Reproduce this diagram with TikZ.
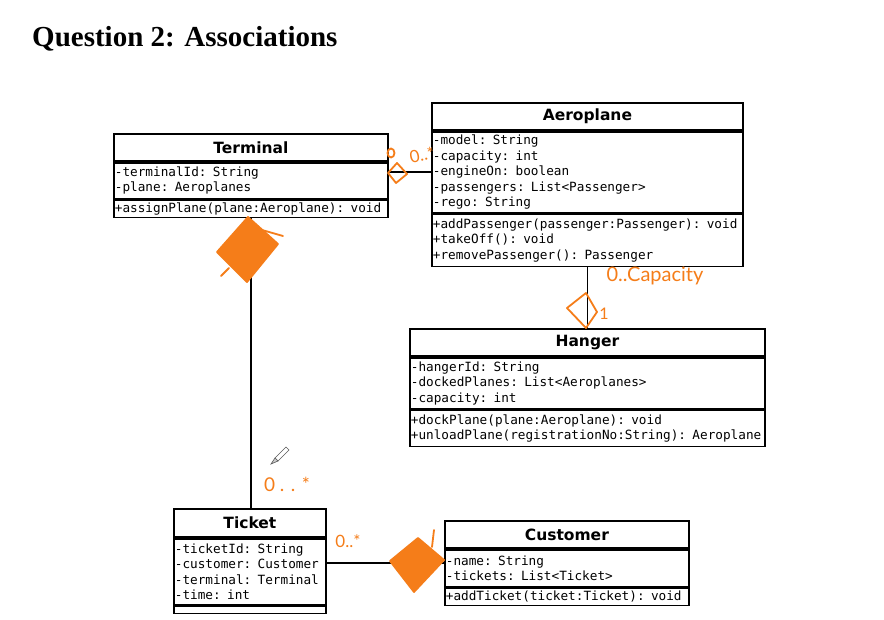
\documentclass[tikz,border=0pt]{standalone}
\usepackage{fontspec}
\setmainfont{Liberation Serif}
\newfontfamily\umlmono{DejaVu Sans Mono}
\newfontfamily\umlsans{DejaVu Sans}
\newfontfamily\handfont{Lato}
\newcommand\umlnohyph{\hyphenpenalty=10000\relax\exhyphenpenalty=10000\relax}
\definecolor{hand}{RGB}{245,125,25}
\begin{document}
\begin{tikzpicture}[x=1pt,y=-1pt,
  umlbox/.style={draw, line width=1.8pt, anchor=north west, inner xsep=1pt, inner ysep=0pt},
  clstitle/.style={umlbox, font=\umlsans\bfseries\fontsize{15.5}{18}\selectfont, align=center},
  clsbody/.style={umlbox, font=\umlmono\fontsize{12.7}{15.5}\selectfont\umlnohyph, align=left},
  assoc/.style={draw, line width=1.8pt},
  handline/.style={draw=hand, line width=1.8pt, line join=round, line cap=round},
  handfill/.style={handline, fill=hand},
  handtext/.style={text=hand, font=\handfont\fontsize{17}{19}\selectfont, inner sep=0pt}]
\useasboundingbox (0,0) rectangle (884,620);
\fill[white] (0,0) rectangle (884,620);

% title
\node[anchor=base west, inner sep=0pt, font=\bfseries\fontsize{29}{32}\selectfont] (title) at (32,46.5) {Question 2: Associations};

% Terminal
\node[clstitle, minimum width=274pt, minimum height=27pt] (term) at (113,133) {Terminal};
\node[clsbody, text width=272pt, minimum height=36pt] (termA) at (term.south west) {-terminalId: String\\-plane: Aeroplanes};
\node[clsbody, text width=272pt, minimum height=17pt] (termM) at (termA.south west) {+assignPlane(plane:Aeroplane): void};

% Aeroplane
\node[clstitle, minimum width=311pt, minimum height=27pt] (plane) at (431,102) {Aeroplane};
\node[clsbody, text width=309pt, minimum height=81pt] (planeA) at (plane.south west) {-model: String\\-capacity: int\\-engineOn: boolean\\-passengers: List<Passenger>\\-rego: String};
\node[clsbody, text width=309pt, minimum height=52pt] (planeM) at (planeA.south west) {+addPassenger(passenger:Passenger): void\\+takeOff(): void\\+removePassenger(): Passenger};

% Hanger
\node[clstitle, minimum width=355pt, minimum height=27pt] (hang) at (409,328) {Hanger};
\node[clsbody, text width=353pt, minimum height=51pt] (hangA) at (hang.south west) {-hangerId: String\\-dockedPlanes: List<Aeroplanes>\\-capacity: int};
\node[clsbody, text width=353pt, minimum height=36pt] (hangM) at (hangA.south west) {+dockPlane(plane:Aeroplane): void\\+unloadPlane(registrationNo:String): Aeroplane};

% Ticket
\node[clstitle, minimum width=152pt, minimum height=28pt] (tick) at (173,508) {Ticket};
\node[clsbody, text width=150pt, minimum height=66pt] (tickA) at (tick.south west) {-ticketId: String\\-customer: Customer\\-terminal: Terminal\\-time: int};
\node[clsbody, text width=150pt, minimum height=7pt] (tickM) at (tickA.south west) {};

% Customer
\node[clstitle, minimum width=244pt, minimum height=27pt] (cust) at (444,520) {Customer};
\node[clsbody, text width=242pt, minimum height=37pt] (custA) at (cust.south west) {-name: String\\-tickets: List<Ticket>};
\node[clsbody, text width=242pt, minimum height=17pt] (custM) at (custA.south west) {+addTicket(ticket:Ticket): void};

% connectors
\coordinate (ta) at ([yshift=-10pt]termA.north east);
\draw[assoc] (ta) -- (ta -| planeA.west);
\draw[assoc] (termM.south) -- (termM.south |- tick.north);
\draw[assoc] (planeM.south) -- (hang.north);
\coordinate (cu) at ([yshift=-14pt]custA.north west);
\draw[assoc] (cu -| tickA.east) -- (cu);

% hand annotations
\draw[handline] (388,173) -- (397,163) -- (407,174) -- (396,183) -- cycle;
\draw[handline] (391,153) circle[x radius=3.5pt, y radius=4.5pt];
\node[handtext, rotate=12] (m1) at (422,155) {0..*};

\draw[handfill] (248,217) -- (278,244) -- (247,282) -- (217,252) -- cycle;
\draw[handline] (262,230) -- (283,236);
\draw[handline] (229,268) -- (221,276);
\node[handtext, font=\handfont\fontsize{19}{21}\selectfont] (m2) at (287,484) {0 . . *};

\draw[handline] (586,293) -- (597,312) -- (586,328) -- (567,308) -- cycle;
\node[handtext, font=\handfont\fontsize{16}{18}\selectfont] (m3a) at (604,314) {1};
\node[handtext, font=\handfont\fontsize{20}{22}\selectfont] (m3) at (655,276) {0..Capacity};

\draw[handfill] (390,561) -- (418,538) -- (444,560) -- (414,592) -- cycle;
\draw[handline] (434,530) -- (432,547);
\node[handtext] (m4) at (348,541) {0..*};

% pencil cursor
\draw[gray!70!black, line width=0.6pt, fill=white] (275,458) -- (286,447) -- (289,450) -- (278,461) -- cycle;
\draw[gray!70!black, line width=0.6pt, fill=gray!40] (275,458) -- (271,464) -- (278,461) -- cycle;
\end{tikzpicture}
\end{document}
